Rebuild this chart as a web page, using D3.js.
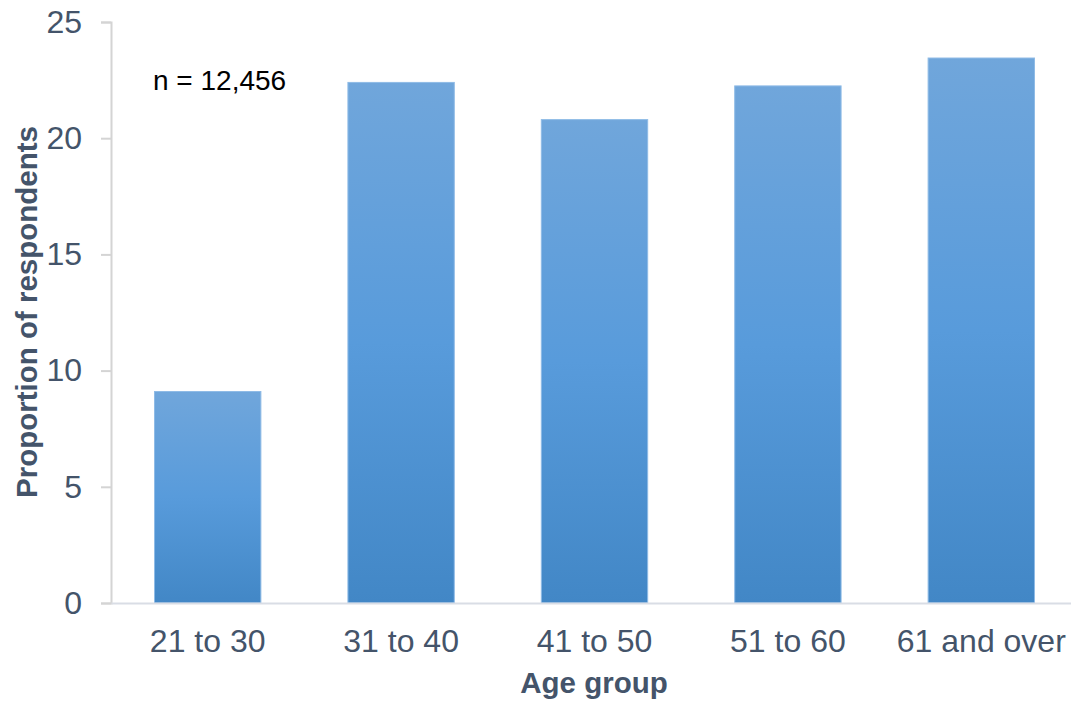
<!DOCTYPE html>
<html>
<head>
<meta charset="utf-8">
<script src="https://cdnjs.cloudflare.com/ajax/libs/d3/7.8.5/d3.min.js"></script>
<style>
  html, body { margin: 0; padding: 0; background: #fff; }
  svg { display: block; }
</style>
</head>
<body>
<svg id="chart" width="1071" height="707"></svg>
<script>
const categories = ["21 to 30", "31 to 40", "41 to 50", "51 to 60", "61 and over"];
const values = [9.1, 22.4, 20.8, 22.25, 23.45];
const yTicks = [0, 5, 10, 15, 20, 25];
const yTitle = "Proportion of respondents";
const xTitle = "Age group";
const note = "n = 12,456";

const svg = d3.select("#chart");
const font = "'Liberation Sans', Arial, sans-serif";
const textColor = "#44546a";

const x = d3.scaleBand().domain(categories).range([111, 1078])
  .paddingInner(0.45).paddingOuter(0.225);
const y = d3.scaleLinear().domain([0, 25]).range([603, 22]);

const defs = svg.append("defs");
const grad = defs.append("linearGradient").attr("id", "barGrad")
  .attr("x1", 0).attr("y1", 0).attr("x2", 0).attr("y2", 1);
grad.append("stop").attr("offset", "0%").attr("stop-color", "#70a6db");
grad.append("stop").attr("offset", "50%").attr("stop-color", "#589bdb");
grad.append("stop").attr("offset", "100%").attr("stop-color", "#4287c6");

// Y axis
const yAxis = svg.append("g").attr("transform", "translate(111,0)")
  .call(d3.axisLeft(y).tickValues(yTicks).tickSize(10).tickPadding(19));
yAxis.select(".domain").attr("stroke", "#d4d4d4").attr("stroke-width", 2);
yAxis.selectAll(".tick line").attr("stroke", "#d4d4d4").attr("stroke-width", 2);
yAxis.selectAll(".tick text").attr("fill", textColor)
  .style("font-family", font).style("font-size", "32px");

// Bars
svg.append("g").selectAll("rect").data(categories).join("rect")
  .attr("x", d => x(d))
  .attr("width", x.bandwidth())
  .attr("y", (d, i) => y(values[i]))
  .attr("height", (d, i) => y(0) - y(values[i]))
  .attr("fill", "url(#barGrad)")
  .attr("stroke", "#8fbbe6").attr("stroke-width", 1);

// X axis
const xAxis = svg.append("g").attr("transform", "translate(0,603)")
  .call(d3.axisBottom(x).tickSize(0).tickPadding(26).tickSizeOuter(0));
xAxis.select(".domain").attr("stroke", "#d9dde5").attr("stroke-width", 2);
xAxis.selectAll(".tick text").attr("fill", textColor)
  .style("font-family", font).style("font-size", "32px");

// Titles
svg.append("text")
  .attr("transform", "translate(37,312) rotate(-90)")
  .attr("text-anchor", "middle")
  .attr("fill", textColor)
  .style("font-family", font).style("font-size", "29.5px").style("font-weight", "bold")
  .text(yTitle);

svg.append("text")
  .attr("x", 594).attr("y", 693)
  .attr("text-anchor", "middle")
  .attr("fill", textColor)
  .style("font-family", font).style("font-size", "29.5px").style("font-weight", "bold")
  .text(xTitle);

svg.append("text")
  .attr("x", 153).attr("y", 90)
  .attr("fill", "#000")
  .style("font-family", font).style("font-size", "28px")
  .text(note);
</script>
</body>
</html>
